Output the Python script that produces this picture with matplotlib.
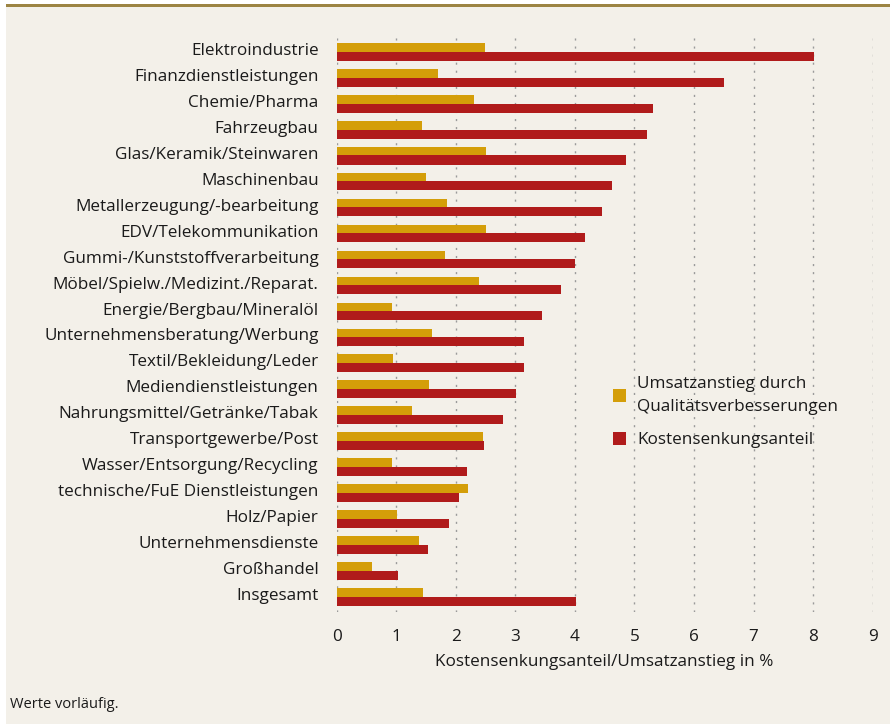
import matplotlib
matplotlib.use("Agg")
import matplotlib.pyplot as plt
import matplotlib.transforms as mtransforms
from matplotlib.patches import Patch, Rectangle

categories = [
    "Elektroindustrie", "Finanzdienstleistungen", "Chemie/Pharma", "Fahrzeugbau",
    "Glas/Keramik/Steinwaren", "Maschinenbau", "Metallerzeugung/-bearbeitung",
    "EDV/Telekommunikation", "Gummi-/Kunststoffverarbeitung",
    "Möbel/Spielw./Medizint./Reparat.", "Energie/Bergbau/Mineralöl",
    "Unternehmensberatung/Werbung", "Textil/Bekleidung/Leder",
    "Mediendienstleistungen", "Nahrungsmittel/Getränke/Tabak",
    "Transportgewerbe/Post", "Wasser/Entsorgung/Recycling",
    "technische/FuE Dienstleistungen", "Holz/Papier", "Unternehmensdienste",
    "Großhandel", "Insgesamt",
]
umsatz = [2.49, 1.70, 2.31, 1.43, 2.51, 1.50, 1.85, 2.51, 1.82, 2.39, 0.93,
          1.60, 0.95, 1.55, 1.26, 2.46, 0.93, 2.20, 1.01, 1.38, 0.59, 1.45]
kosten = [8.02, 6.50, 5.31, 5.21, 4.86, 4.62, 4.46, 4.17, 4.00, 3.77, 3.45,
          3.15, 3.15, 3.01, 2.79, 2.47, 2.19, 2.05, 1.89, 1.53, 1.03, 4.02]
xticks = [0, 1, 2, 3, 4, 5, 6, 7, 8, 9]
label_umsatz = "Umsatzanstieg durch\nQualitätsverbesserungen"
label_kosten = "Kostensenkungsanteil"
xlabel = "Kostensenkungsanteil/Umsatzanstieg in %"
footnote = "Werte vorläufig."

YELLOW = "#D49E09"
RED = "#B01B1B"
BG = "#F3F0E9"
TXT = "#1a1a1a"

plt.rcParams['font.family'] = ['Open Sans', 'DejaVu Sans']
FS = 12.3

W, H = 890, 724
fig = plt.figure(figsize=(W / 100, H / 100), dpi=100, facecolor="white")
# background panel and top rule
fig.patches.append(Rectangle((6 / W, 0), 1 - 6 / W, 1 - 7 / H, transform=fig.transFigure,
                             facecolor=BG, edgecolor="none", zorder=-10))
fig.patches.append(Rectangle((6 / W, 1 - 7 / H), 1 - 6 / W, 3 / H, transform=fig.transFigure,
                             facecolor="#9C8443", edgecolor="none", zorder=-9))

left, right = 336.7 / W, 872.6 / W
top, bottom = 1 - 37 / H, 1 - 612 / H
ax = fig.add_axes([left, bottom, right - left, top - bottom])
ax.set_facecolor("none")

n = len(categories)
ypos = list(range(n))
bh = 0.35
ax.barh([y - 0.17 for y in ypos], umsatz, height=bh, color=YELLOW, zorder=3, label=label_umsatz)
ax.barh([y + 0.16 for y in ypos], kosten, height=bh, color=RED, zorder=3, label=label_kosten)

ax.set_xlim(0, 9)
ax.set_ylim(n - 1 + 0.58, -0.58)
ax.set_xticks(xticks)
ax.set_xticklabels([str(t) for t in xticks], fontsize=FS, color=TXT)
ax.set_yticks(ypos)
ax.set_yticklabels(categories, fontsize=FS, color=TXT)
ax.tick_params(axis="both", length=0)
ax.tick_params(axis="y", pad=13)
ax.tick_params(axis="x", pad=12)
offset = mtransforms.ScaledTranslation(0, 3 / 100, fig.dpi_scale_trans)
for lbl in ax.get_yticklabels():
    lbl.set_transform(lbl.get_transform() + offset)
for s in ax.spines.values():
    s.set_visible(False)
ax.grid(axis="x", color="#9a9a9a", linewidth=1.0, linestyle=(0, (1.5, 4.3)), zorder=1)
ax.set_axisbelow(True)
ax.set_xlabel(xlabel, fontsize=FS, color=TXT, labelpad=7)

handles = [Patch(facecolor=YELLOW, edgecolor="none"), Patch(facecolor=RED, edgecolor="none")]
leg = fig.legend(handles, [label_umsatz, label_kosten], loc="upper left",
                 bbox_to_anchor=(598 / W, 1 - 361 / H), frameon=False, fontsize=FS,
                 handlelength=0.75, handleheight=0.75, handletextpad=0.65, labelspacing=1.0,
                 labelcolor=TXT)
for t in leg.get_texts():
    t.set_linespacing(1.55)

fig.text(10 / W, 1 - 705 / H, footnote, fontsize=10.5, color=TXT, va="center", ha="left")

fig.savefig("out.png", dpi=100, facecolor=fig.get_facecolor())
